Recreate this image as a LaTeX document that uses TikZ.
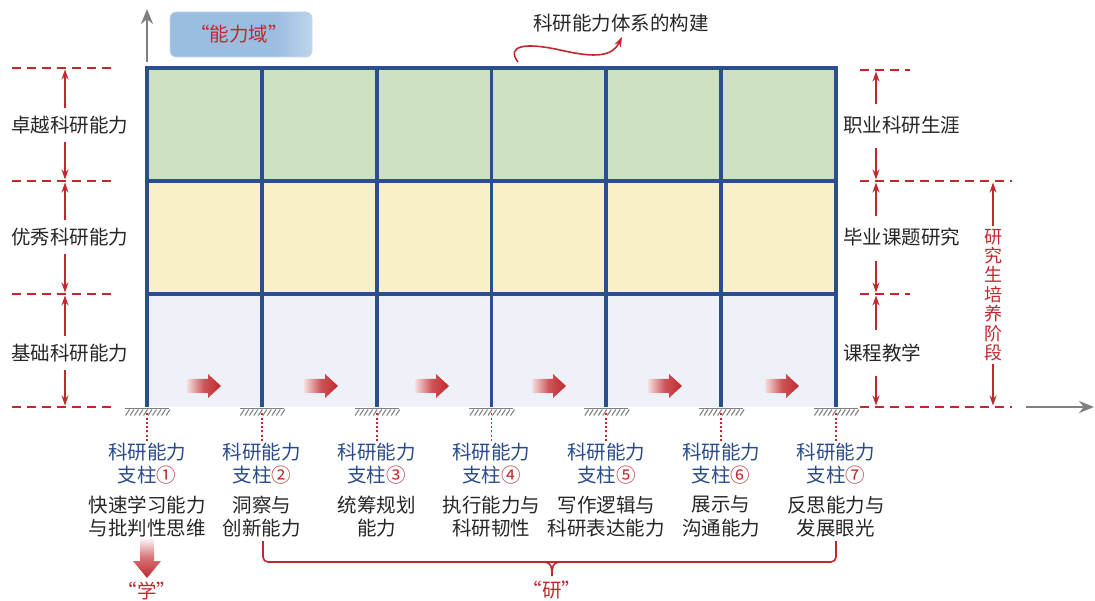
\documentclass[tikz,border=0pt]{standalone}
\usepackage{fontspec}
\setmainfont{Noto Sans CJK SC}
\usetikzlibrary{arrows.meta,calc}
\definecolor{gridblue}{HTML}{2B4E8C}
\definecolor{gfill}{HTML}{CDE1C1}
\definecolor{yfill}{HTML}{FAF0C8}
\definecolor{bfill}{HTML}{EEF2F8}
\definecolor{dred}{HTML}{C0282D}
\definecolor{tblue}{HTML}{2A4A8A}
\definecolor{boxblue}{HTML}{9BBDE0}
\definecolor{axgray}{HTML}{808080}
\pgfdeclarehorizontalshading{boxshade}{100bp}{color(0bp)=(boxblue); color(62bp)=(boxblue); color(100bp)=(white)}
\tikzset{
  gridline/.style={draw=gridblue, line width=3.8pt},
  reddash/.style={draw=dred, line width=1.8pt, dash pattern=on 9pt off 6pt},
  redarr/.style={draw=dred, line width=1.6pt, -{Stealth[length=10pt,width=7pt]}},
  grayarr/.style={draw=axgray, line width=2.4pt, -{Stealth[length=15pt,width=12pt]}},
  lbl/.style={font=\fontsize{19.5}{23}\selectfont, text=black!85, inner sep=1pt},
  plbl/.style={font=\fontsize{19.5}{23}\selectfont, text=tblue, inner sep=1pt},
  dlbl/.style={font=\fontsize{19.5}{23.5}\selectfont, text=black!85, align=center, inner sep=1pt},
  rlbl/.style={font=\fontsize{19.5}{23}\selectfont, text=dred, inner sep=1pt},
  redline/.style={draw=dred, line width=1.6pt, rounded corners=5pt},
}
\begin{document}
\begin{tikzpicture}[x=1pt,y=-1pt]
\useasboundingbox (0,0) rectangle (1095,601);
% fills
\fill[gfill] (147,68) rectangle (836,181);
\fill[yfill] (147,181) rectangle (836,294);
\fill[bfill] (147,294) rectangle (836,407);
% grid
\draw[gridline] (147,68) -- (836,68);
\draw[gridline] (147,181) -- (836,181);
\draw[gridline] (147,294) -- (836,294);
\foreach \i in {0,...,6} {
  \pgfmathsetmacro{\xx}{147+114.83*\i}
  \coordinate (top\i) at (\xx,66.1);
  \coordinate (bot\i) at (\xx,407.5);
  \draw[gridline] (top\i) -- (bot\i);
  % ground
  \draw[axgray, line width=1.6pt] ($(bot\i)+(-22,1.2)$) -- ($(bot\i)+(22,1.2)$);
  \foreach \k in {0,...,9} {
    \draw[axgray, line width=1.1pt] ($(bot\i)+(-21.5+4.5*\k,8)$) -- ($(bot\i)+(-17.5+4.5*\k,2)$);
  }
  % dotted stem
  \coordinate (st\i) at ($(bot\i)+(0,6)$);
  \coordinate (sb\i) at ($(bot\i)+(0,33)$);
  \draw[dred, line width=1.8pt, dash pattern=on 2pt off 2.2pt] (st\i) -- (sb\i);
}
% red gradient arrows in bottom row
\foreach \xa/\n in {187/1,304/2,415/3,532/4,648/5,765/6} {
  \shade[left color=dred!15, right color=dred, middle color=dred!80] (\xa,379) -- ++(21,0) -- ++(0,-5) -- ++(13,12) -- ++(-13,12) -- ++(0,-5) -- ++(-21,0) -- cycle;
}
% pillar labels
\foreach \i/\c/\la/\lb in {0/①/快速学习能力/与批判性思维, 1/②/洞察与/创新能力, 2/③/统筹规划/能力, 3/④/执行能力与/科研韧性, 4/⑤/写作逻辑与/科研表达能力, 5/⑥/展示与/沟通能力, 6/⑦/反思能力与/发展眼光} {
  \node[plbl] (pa\i) at ($(bot\i)+(0,45)$) {科研能力};
  \node[plbl] (pb\i) at ($(bot\i)+(0,68)$) {支柱\textcolor{dred}{\c}};
  \node[dlbl] (pd\i) at ($(bot\i)+(0,109)$) {\la\\\lb};
}
% "学" arrow
\shade[top color=white, bottom color=dred, middle color=dred!65] (140,537) -- (154,537) -- (154,561) -- (161,561) -- (147,578) -- (133,561) -- (140,561) -- cycle;
\node[rlbl] (xue) at (147,591) {“学”};
% "研" bracket
\coordinate (bl) at (263,541);
\coordinate (br) at (836,541);
\draw[redline] (bl) -- (263,562) -- (836,562) -- (br);
\draw[dred, line width=1.6pt] (545,562) .. controls (551,563) and (552,566) .. (552,576);
\draw[dred, line width=1.6pt] (559,562) .. controls (553,563) and (552,566) .. (552,576);
\node[rlbl] (yan) at (552,590) {“研”};
% axes
\coordinate (ay0) at (147,62);
\coordinate (ay1) at (147,9);
\draw[grayarr] (ay0) -- (ay1);
\coordinate (ax0) at (1026,407);
\coordinate (ax1) at (1094,407);
\draw[grayarr] (ax0) -- (ax1);
% ability domain box
\shade[shading=boxshade, rounded corners=6pt] (170,12) rectangle (312,57);
\draw[boxblue!60, line width=0.6pt, rounded corners=6pt] (170,12) rectangle (312,57);
\node[rlbl] (dom) at (239,34.5) {“能力域”};
% title
\node[lbl] (title) at (621,23) {科研能力体系的构建};
\coordinate (cs) at (518,62);
\draw[redarr] (cs) .. controls (506,46) and (524,42) .. (560,50) .. controls (595,58) and (612,57) .. (622,37);
% left side
\foreach \yy/\n in {68/0,181/1,294/2,407/3} {
  \coordinate (lda\n) at (12,\yy);
  \coordinate (ldb\n) at (112,\yy);
  \draw[reddash] (lda\n) -- (ldb\n);
  \coordinate (lm\n) at (65,\yy);
}
\node[lbl] (L1) at (70,125) {卓越科研能力};
\node[lbl] (L2) at (70,237) {优秀科研能力};
\node[lbl] (L3) at (70,353) {基础科研能力};
\draw[redarr] ($(L1.north)+(-5,-7)$) -- ($(lm0)+(0,1.5)$);
\draw[redarr] ($(L1.south)+(-5,7)$) -- ($(lm1)+(0,-1.5)$);
\draw[redarr] ($(L2.north)+(-5,-7)$) -- ($(lm1)+(0,1.5)$);
\draw[redarr] ($(L2.south)+(-5,7)$) -- ($(lm2)+(0,-1.5)$);
\draw[redarr] ($(L3.north)+(-5,-7)$) -- ($(lm2)+(0,1.5)$);
\draw[redarr] ($(L3.south)+(-5,7)$) -- ($(lm3)+(0,-1.5)$);
% right side
\coordinate (rda0) at (860,70); \coordinate (rdb0) at (910,70);
\coordinate (rda1) at (860,181); \coordinate (rdb1) at (1012,181);
\coordinate (rda2) at (860,294); \coordinate (rdb2) at (910,294);
\coordinate (rda3) at (860,407); \coordinate (rdb3) at (1012,407);
\foreach \n in {0,...,3} {\draw[reddash] (rda\n) -- (rdb\n);}
\coordinate (rm0) at (876,70); \coordinate (rm1) at (876,181);
\coordinate (rm2) at (876,294); \coordinate (rm3) at (876,407);
\node[lbl, anchor=west] (R1) at (842,125) {职业科研生涯};
\node[lbl, anchor=west] (R2) at (842,237) {毕业课题研究};
\node[lbl, anchor=west] (R3) at (842,353) {课程教学};
\coordinate (r1n) at (876,104); \coordinate (r1s) at (876,148);
\coordinate (r2n) at (876,216); \coordinate (r2s) at (876,261);
\coordinate (r3n) at (876,330); \coordinate (r3s) at (876,376);
\draw[redarr] (r1n) -- ($(rm0)+(0,1.5)$);
\draw[redarr] (r1s) -- ($(rm1)+(0,-1.5)$);
\draw[redarr] (r2n) -- ($(rm1)+(0,1.5)$);
\draw[redarr] (r2s) -- ($(rm2)+(0,-1.5)$);
\draw[redarr] (r3n) -- ($(rm2)+(0,1.5)$);
\draw[redarr] (r3s) -- ($(rm3)+(0,-1.5)$);
% vertical stage label
\node[font=\fontsize{18}{19.4}\selectfont, text=dred, align=center, inner sep=1pt] (stage) at (993,295) {研\\究\\生\\培\\养\\阶\\段};
\draw[redarr] ($(stage.north)+(0,-2)$) -- (993,182.5);
\draw[redarr] ($(stage.south)+(0,2)$) -- (993,405.5);
\end{tikzpicture}
\end{document}
